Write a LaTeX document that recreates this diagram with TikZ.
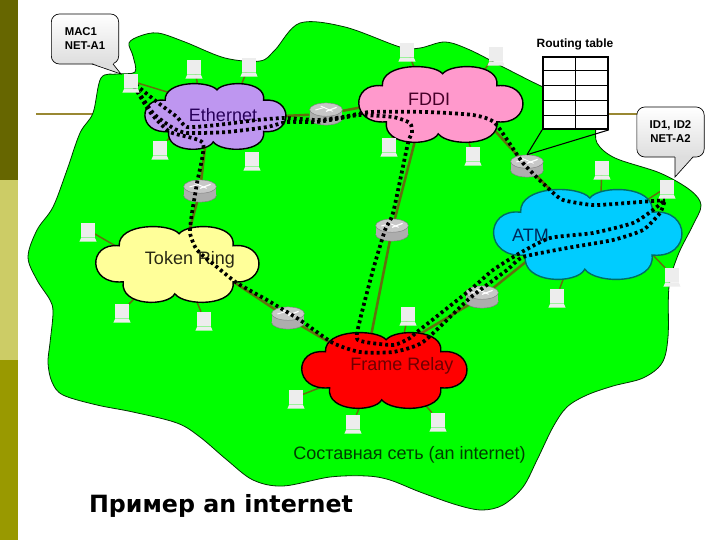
\documentclass[tikz,border=0pt]{standalone}
\usepackage{fontspec}
\setmainfont{Liberation Sans}
\newfontfamily\titlefont{DejaVu Sans}
\usepackage{tikz}
\usetikzlibrary{calc, shapes.geometric}

\definecolor{linkcol}{rgb}{0.38,0.44,0.06}
\definecolor{hostcol}{rgb}{0.93,0.93,0.93}
\pgfdeclarelayer{blob}
\pgfdeclarelayer{links}
\pgfdeclarelayer{front}
\pgfsetlayers{blob,links,main,front}

\tikzset{
  hostbox/.style={rectangle,fill=hostcol,minimum width=10pt,minimum height=10.5pt,inner sep=0pt},
  routerbox/.style={rectangle,fill=black!32,minimum width=24.5pt,minimum height=7pt,inner sep=0pt},
  routerend/.style={ellipse,draw=black!50,line width=0.35pt,minimum width=24.5pt,minimum height=10pt,inner sep=0pt},
  cloudanchor/.style={ellipse,inner sep=0pt},
  cloudline/.style={line width=1.05pt,draw=black},
  cloudlabel/.style={font=\fontsize{13.5}{15}\selectfont,inner sep=0pt},
  hostlink/.style={linkcol,line width=1.1pt},
  routerlink/.style={linkcol,line width=1.9pt},
  route/.style={black,line width=2.8pt,dash pattern=on 2.2pt off 2.3pt},
  calloutbox/.style={rectangle,rounded corners=6pt,draw=black,line width=0.5pt,top color=white,bottom color=black!13,
    minimum width=50.5pt,minimum height=37.5pt,inner sep=0pt,font=\bfseries\fontsize{8.5}{10.5}\selectfont},
}

\newcommand{\cloudshape}{(-.363,-.25) .. controls (-.37,-.557) and (-.05,-.557) .. (.007,-.41)
  .. controls (.06,-.557) and (.36,-.557) .. (.34,-.25)
  .. controls (.553,-.3) and (.553,.28) .. (.34,.23)
  .. controls (.36,.563) and (.04,.563) .. (-.02,.39)
  .. controls (-.06,.563) and (-.36,.563) .. (-.338,.23)
  .. controls (-.56,.28) and (-.56,-.3) .. (-.363,-.25) -- cycle}
% name, centre, width, height, look
\newcommand{\cloudpc}[5]{
  \begin{scope}[shift={(#2)},xscale=#3,yscale=#4]
    \draw[cloudline,#5] \cloudshape;
  \end{scope}
  \node[cloudanchor,minimum width=#3*0.6pt,minimum height=#4*0.6pt] (#1) at (#2) {};
}
\newcommand{\hostpc}[2]{
  \begin{pgfonlayer}{front}
    \node[hostbox] (#1) at ([yshift=-1.5pt]#2) {};
    \fill[hostcol] ([xshift=-5pt]#1.south) -- ([xshift=5pt]#1.south) -- ([xshift=6.4pt,yshift=3.2pt]#1.south) -- ([xshift=-6.4pt,yshift=3.2pt]#1.south) -- cycle;
  \end{pgfonlayer}
}
% y runs downward here, so a positive yshift goes down the page
\newcommand{\routerpc}[2]{
  \node[routerend,fill=black!32] (#1bottom) at ([yshift=3.3pt]#2) {};
  \node[routerbox] (#1) at (#2) {};
  \node[routerend,fill=black!22] (#1top) at ([yshift=-3.3pt]#2) {};
  \draw[white,line width=0.7pt] ([xshift=-8pt,yshift=-3pt]#1.center) -- ([xshift=-1pt,yshift=-5pt]#1.center);
  \draw[white,line width=0.9pt] ([xshift=0pt,yshift=-2pt]#1.center) -- ([xshift=8pt,yshift=-5pt]#1.center);
  \draw[white,line width=0.7pt] ([xshift=-4pt,yshift=-6pt]#1.center) -- ([xshift=5pt,yshift=-2pt]#1.center);
}

\begin{document}
\begin{tikzpicture}[x=0.75pt,y=0.75pt,yscale=-1,xscale=1]
  \useasboundingbox (0,0) rectangle (720,540);
  %Side bar
  \fill[fill={rgb,255:red,102;green,102;blue,0}] (0,0) rectangle (18,180);
  \fill[fill={rgb,255:red,204;green,204;blue,102}] (0,180) rectangle (18,360);
  \fill[fill={rgb,255:red,153;green,153;blue,0}] (0,360) rectangle (18,540);

  %Backbone line
  \coordinate (lineleft) at (36,114);
  \coordinate (lineright) at (640,114);
  \begin{pgfonlayer}{blob}
    \draw[line width=1.5pt,color={rgb,255:red,153;green,136;blue,51}] (lineleft) -- (lineright);
    %Shape: internet area
    \draw[fill={rgb,255:red,0;green,255;blue,0},draw=black!80!green,line width=0.6pt] plot[smooth cycle,tension=0.55] coordinates {
      (101,78) (118,74) (135,72) (133,56) (129,43) (140,36) (158,33) (185,42) (225,58) (260,61) (275,50) (300,23)
      (345,27) (400,47) (420,48) (445,42) (470,50) (505,68) (543,87) (585,105) (595,125) (597,143) (615,158) (660,173)
      (690,190) (701,205) (693,225) (678,255) (669,287) (668,337) (662,363) (643,378) (613,386) (587,395) (567,407)
      (553,427) (537,460) (523,487) (503,505) (482,510) (457,505) (420,492) (390,480) (367,476) (330,477) (283,486)
      (253,480) (227,460) (200,437) (177,423) (133,412) (97,405) (63,395) (52,382) (48,363) (50,343) (53,313) (50,300)
      (37,280) (28,257) (37,230) (53,207) (67,170) (80,133) (93,113)};
  \end{pgfonlayer}

  %Clouds
  \cloudpc{ethernet}{216,116.5}{140}{65}{fill={rgb,255:red,190;green,150;blue,240}}
  \cloudpc{fddi}{441.5,104.5}{163}{75}{fill={rgb,255:red,255;green,153;blue,204}}
  \cloudpc{atm}{588.5,234.5}{187}{89}{fill={rgb,255:red,0;green,204;blue,255},draw={rgb,255:red,0;green,110;blue,100}}
  \cloudpc{tokenring}{178,264.5}{162}{75}{fill={rgb,255:red,255;green,255;blue,153}}
  \cloudpc{framerelay}{385,370.5}{164}{75}{fill={rgb,255:red,255;green,0;blue,0}}

  %Hosts
  \hostpc{hmac}{131,83}
  \hostpc{heth1}{194,69}
  \hostpc{heth2}{249,67}
  \hostpc{heth3}{160,150}
  \hostpc{heth4}{252,161}
  \hostpc{hfddi1}{407,52}
  \hostpc{hfddi2}{496,56}
  \hostpc{hfddi3}{389,147}
  \hostpc{hfddi4}{473,156}
  \hostpc{hatm1}{602,170}
  \hostpc{hid}{667,189}
  \hostpc{hatm2}{672,277}
  \hostpc{hatm3}{557,298}
  \hostpc{htok1}{88,232}
  \hostpc{htok2}{122,313}
  \hostpc{htok3}{204,321}
  \hostpc{hfr1}{408,316}
  \hostpc{hfr2}{438,422}
  \hostpc{hfr3}{296,399}
  \hostpc{hfr4}{353,424}

  %Routers
  \routerpc{reth}{326,114}
  \routerpc{rtok}{200,191}
  \routerpc{rfddi}{392,230}
  \routerpc{ratm}{527,166}
  \routerpc{rfr}{288,318}
  \routerpc{rfratm}{482,297}

  %Links
  \begin{pgfonlayer}{links}
    \draw[hostlink] (hmac) -- (ethernet.150);
    \draw[hostlink] (heth1) -- (ethernet.124);
    \draw[hostlink] (heth2) -- (ethernet.47);
    \draw[hostlink] (heth3) -- (ethernet.202);
    \draw[hostlink] (hfddi1) -- (fddi.130);
    \draw[hostlink] (hfddi2) -- (fddi.35);
    \draw[hostlink] (hfddi3) -- (fddi.206);
    \draw[hostlink] (hfddi4) -- (fddi.310);
    \draw[hostlink] (hatm1) -- (atm.71);
    \draw[hostlink] (hid) -- (atm.30);
    \draw[hostlink] (hatm2) -- (atm.343);
    \draw[hostlink] (hatm3) -- (atm.238);
    \draw[hostlink] (htok1) -- (tokenring.165);
    \draw[hostlink] (htok2) -- (tokenring.216);
    \draw[hostlink] (htok3) -- (tokenring.298);
    \draw[hostlink] (hfr1) -- (framerelay.59);
    \draw[hostlink] (hfr2) -- (framerelay.322);
    \draw[hostlink] (hfr3) -- (framerelay.194);
    \draw[hostlink] (hfr4) -- (framerelay.233);
    \draw[routerlink] (ethernet.0) -- (reth) -- (fddi.180);
    \draw[routerlink] (ethernet.248) -- (rtok) -- (tokenring.71);
    \draw[routerlink] (tokenring.343) -- (rfr) -- (framerelay.154);
    \draw[routerlink] (fddi.229) -- (rfddi) -- (framerelay.117);
    \draw[routerlink] (fddi.337) -- (ratm) -- (atm.129);
    \draw[routerlink] (framerelay.53) -- (rfratm) -- (atm.202);
  \end{pgfonlayer}

  % Text Node
  \node[cloudlabel,text={rgb,255:red,40;green,0;blue,90}] (ethernetlabel) at (223,115) {Ethernet};
  % Text Node
  \node[cloudlabel,text={rgb,255:red,70;green,0;blue,40}] (fddilabel) at (429,99) {FDDI};
  % Text Node
  \node[cloudlabel,text={rgb,255:red,0;green,40;blue,90}] (atmlabel) at (530.5,235) {ATM};
  % Text Node
  \node[cloudlabel,text={rgb,255:red,40;green,40;blue,20}] (tokenlabel) at (190,260) {Token Ring};
  % Text Node
  \node[cloudlabel,text={rgb,255:red,110;green,0;blue,0}] (framelabel) at (402,366) {Frame Relay};
  % Text Node
  \node[inner sep=0pt,font=\fontsize{13.5}{15}\selectfont,text={rgb,255:red,0;green,60;blue,0}] (arealabel) at (409.5,454.5) {Составная сеть (an internet)};
  % Text Node
  \node[inner sep=0pt,font=\titlefont\bfseries\fontsize{17.8}{20}\selectfont] (titlelabel) at (221,506) {Пример an internet};

  %Routes
  \draw[route] plot[smooth,tension=0.35] coordinates {(hmac) (157,102) (177,117) (187,127) (217,125) (257,120) (285,118)
    (317,120) (343,117) (370,112) (427,112) (473,115) (495,123) (523,163) (550,190) (563,200) (593,205) (627,203) (665,200)};
  \draw[route] plot[smooth,tension=0.35] coordinates {(hmac) (153,113) (173,128) (187,133) (227,132) (267,127) (287,122)
    (317,122) (347,117) (360,115) (393,117) (410,123) (412,133) (408,143) (393,213) (385,230) (373,270) (360,320) (358,340)
    (393,345) (410,338) (417,332) (470,290) (493,270) (520,253) (550,238) (593,233) (633,223) (653,210) (665,200)};
  \draw[route] plot[smooth,tension=0.35] coordinates {(hmac) (150,112) (170,132) (203,143) (197,183) (192,213) (190,233)
    (197,250) (217,267) (237,283) (267,300) (300,320) (333,343) (360,352) (393,352) (423,342) (470,298) (507,270) (523,257)
    (567,248) (613,240) (643,230) (660,213) (665,200)};

  %Routing table
  \node[rectangle,draw=black,line width=1.3pt,fill=white,minimum width=48.75pt,minimum height=54pt,inner sep=0pt] (rtable) at (575.5,93) {};
  \draw[line width=0.6pt] (rtable.north) -- (rtable.south);
  \foreach \rowno in {1,...,4}
    \draw[line width=0.6pt] ($(rtable.north west)!\rowno/5!(rtable.south west)$) -- ($(rtable.north east)!\rowno/5!(rtable.south east)$);
  \draw[line width=0.8pt] (rtable.south west) -- (ratmtop.north);
  \draw[line width=0.8pt] (rtable.south east) -- (ratmtop.north);
  % Text Node
  \node[inner sep=0pt,font=\bfseries\fontsize{9}{10}\selectfont] (rtablelabel) at (575,44) {Routing table};

  %Callouts
  \coordinate (mactip) at (121,74);
  \coordinate (idtip) at (675,177);
  \node[calloutbox,align=left] (macbox) at (85,39) {MAC1\\NET-A1};
  \fill[black!13] (92,63) -- (mactip) -- (113,63) -- cycle;
  \draw[line width=0.5pt] (92,64) -- (mactip) -- (113,64);
  \node[calloutbox,align=center] (idbox) at (670.5,132) {ID1, ID2\\NET-A2};
  \fill[black!13] (675,156) -- (idtip) -- (693,156) -- cycle;
  \draw[line width=0.5pt] (675,157) -- (idtip) -- (693,157);
\end{tikzpicture}
\end{document}
